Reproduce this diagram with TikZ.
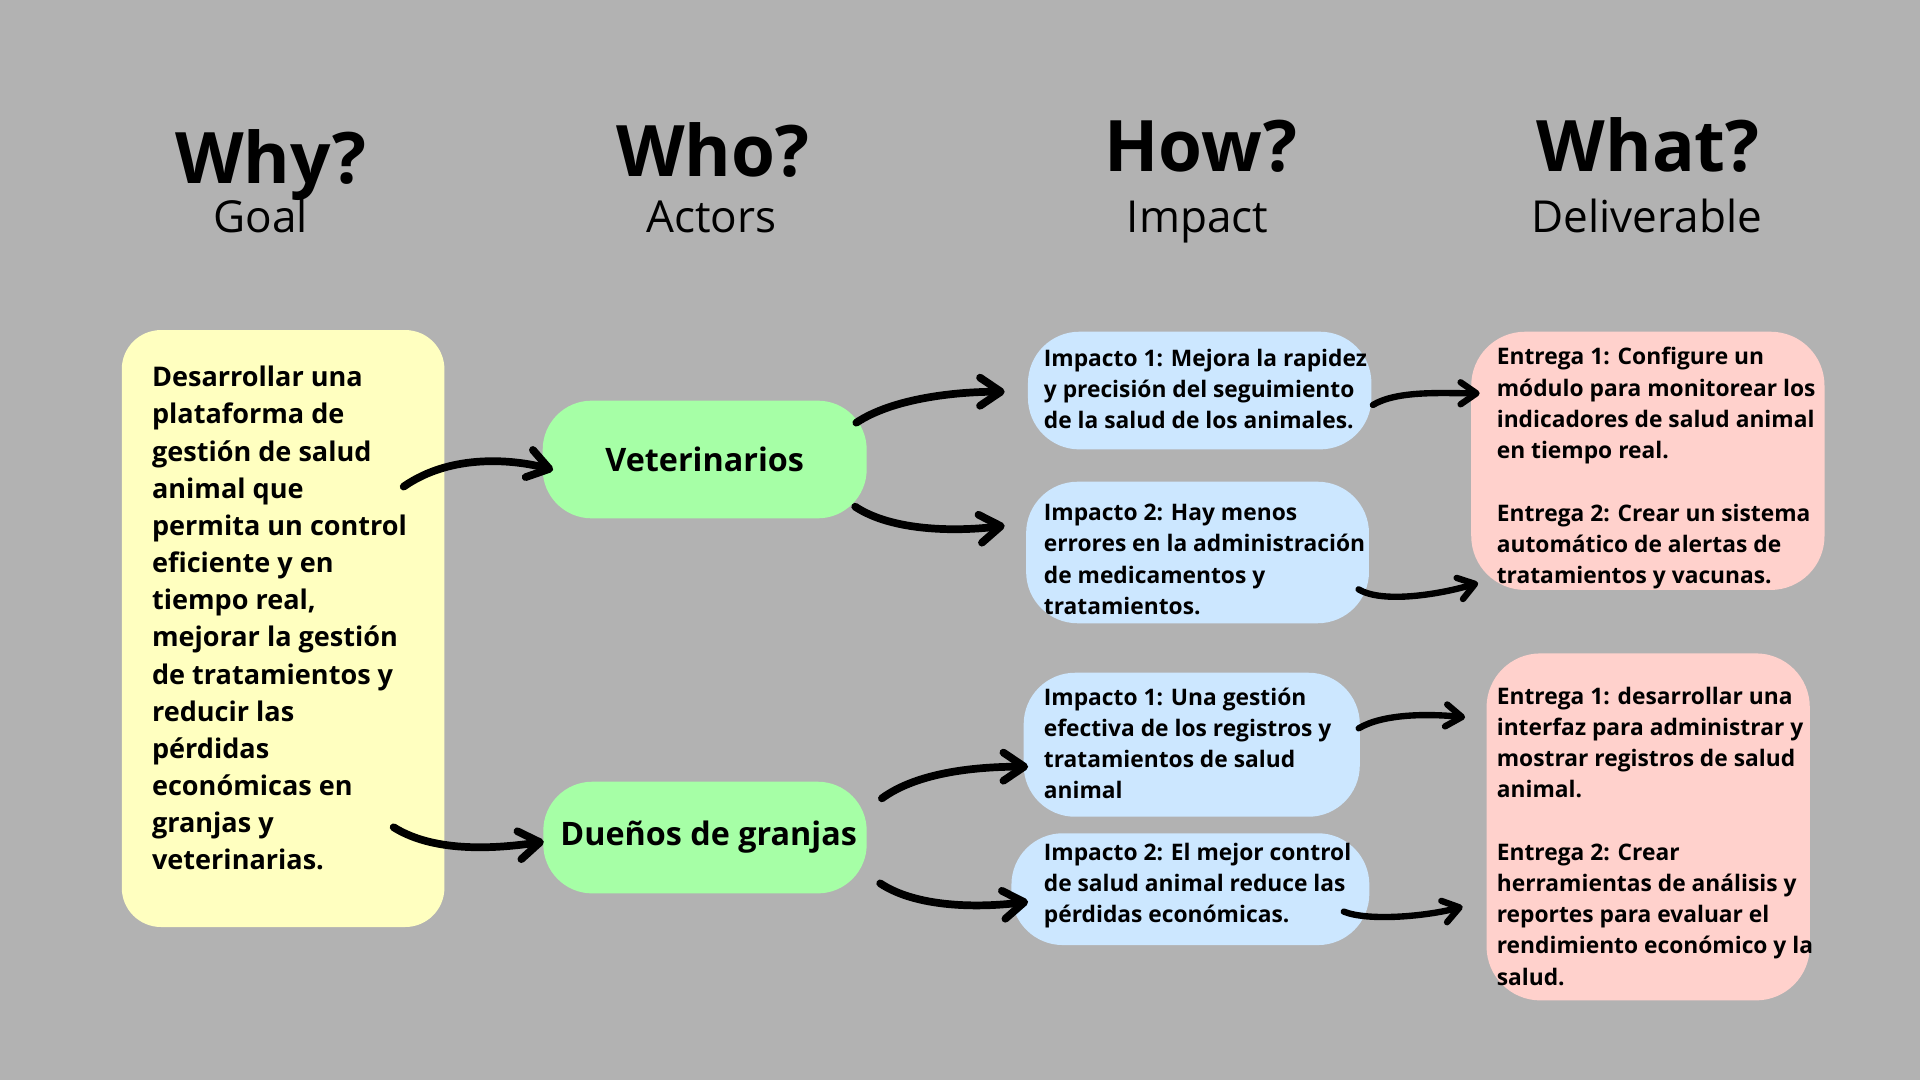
\documentclass[tikz,border=0pt]{standalone}
\usepackage{fontspec}
\setmainfont{Open Sans}
\usetikzlibrary{arrows.meta,calc}
\definecolor{bg}{HTML}{B2B2B2}
\definecolor{goalyellow}{HTML}{FFFFC0}
\definecolor{actorgreen}{HTML}{A6FFA6}
\definecolor{impactblue}{HTML}{CCE7FF}
\definecolor{delivpink}{HTML}{FFD1CC}
\begin{document}
\begin{tikzpicture}[x=1pt,y=-1pt,
  card/.style={rectangle, inner sep=0pt, rounded corners=#1},
  head/.style={inner sep=0pt, anchor=base, font=\fontsize{58pt}{70pt}\selectfont\bfseries},
  subhead/.style={inner sep=0pt, anchor=base, font=\fontsize{36pt}{44pt}\selectfont},
  goaltxt/.style={anchor=north west, inner sep=0pt, align=left, font=\fontsize{22.1pt}{30.34pt}\selectfont\bfseries},
  smalltxt/.style={anchor=north west, inner sep=0pt, align=left, font=\fontsize{18.6pt}{25.5pt}\selectfont\bfseries},
  actortxt/.style={font=\fontsize{26.4pt}{32pt}\selectfont\bfseries},
  bigarrow/.style={line width=6.3pt, line cap=round, -{Straight Barb[length=17pt,width=23pt,round]}},
  smallarrow/.style={line width=5.2pt, line cap=round, -{Straight Barb[length=13pt,width=18pt,round]}}
]
\fill[bg] (0,0) rectangle (1568,882);
\useasboundingbox (0,0) rectangle (1568,882);

% headers
\node[head] (why) at (221,150) {Why?};
\node[subhead] (goalh) at (213,190) {Goal};
\node[head] (who) at (582,144) {Who?};
\node[subhead] (actorsh) at (581,190) {Actors};
\node[head] (how) at (980.6,140) {How?};
\node[subhead] (impacth) at (978,190) {Impact};
\node[head] (what) at (1346,140) {What?};
\node[subhead] (delivh) at (1345,190) {Deliverable};

% boxes
\node[card=32pt, fill=goalyellow, minimum width=263.5pt, minimum height=487.5pt] (goal) at (231.2,513.3) {};
\node[card=40pt, fill=actorgreen, minimum width=264.6pt, minimum height=96.1pt, actortxt] (vet) at (575.5,375.25) {Veterinarios};
\node[card=40pt, fill=actorgreen, minimum width=264.1pt, minimum height=91.2pt, actortxt] (own) at (575.75,684) {\hspace{6pt}Dueños de granjas};
\node[card=42pt, fill=impactblue, minimum width=280.5pt, minimum height=96.1pt] (iv1) at (979.75,318.95) {};
\node[card=42pt, fill=impactblue, minimum width=280pt, minimum height=115.6pt] (iv2) at (978,451.2) {};
\node[card=42pt, fill=impactblue, minimum width=274.5pt, minimum height=117.6pt] (id1) at (973.25,608.2) {};
\node[card=42pt, fill=impactblue, minimum width=292.3pt, minimum height=91.3pt] (id2) at (972.15,726.15) {};
\node[card=44pt, fill=delivpink, minimum width=288.5pt, minimum height=210.9pt] (ev) at (1345.75,376.35) {};
\node[card=44pt, fill=delivpink, minimum width=264pt, minimum height=283.4pt] (ed) at (1346,675.3) {};

% texts
\node[goaltxt] (goalt) at (124,298) {\rule{0pt}{0.8em}Desarrollar una\\plataforma de\\gestión de salud\\animal que\\permita un control\\eficiente y en\\tiempo real,\\mejorar la gestión\\de tratamientos y\\reducir las\\pérdidas\\económicas en\\granjas y\\veterinarias.};
\node[smalltxt] (iv1t) at (852.3,284) {\rule{0pt}{0.8em}Impacto 1: Mejora la rapidez\\y precisión del seguimiento\\de la salud de los animales.};
\node[smalltxt] (iv2t) at (852.3,410.2) {\rule{0pt}{0.8em}Impacto 2: Hay menos\\errores en la administración\\de medicamentos y\\tratamientos.};
\node[smalltxt] (id1t) at (852.3,560.7) {\rule{0pt}{0.8em}Impacto 1: Una gestión\\efectiva de los registros y\\tratamientos de salud\\animal};
\node[smalltxt] (id2t) at (852.3,687.3) {\rule{0pt}{0.8em}Impacto 2: El mejor control\\de salud animal reduce las\\pérdidas económicas.};
\node[smalltxt] (evt) at (1222.2,283) {\rule{0pt}{0.8em}Entrega 1: Configure un\\módulo para monitorear los\\indicadores de salud animal\\en tiempo real.\\[25.5pt]Entrega 2: Crear un sistema\\automático de alertas de\\tratamientos y vacunas.};
\node[smalltxt] (edt) at (1222.2,560) {\rule{0pt}{0.8em}Entrega 1: desarrollar una\\interfaz para administrar y\\mostrar registros de salud\\animal.\\[25.5pt]Entrega 2: Crear\\herramientas de análisis y\\reportes para evaluar el\\rendimiento económico y la\\salud.};

% connectors
\draw[bigarrow] ($(goal.east)+(-33.5,-115.9)$) .. controls +(40,-28) and +(-30,-8) .. ($(vet.west)+(8.7,8.5)$);
\draw[bigarrow] ($(goal.east)+(-41.7,162.3)$) .. controls +(35,22) and +(-35,5) .. ($(own.west)+(0.6,3.4)$);
\draw[bigarrow] ($(vet.east)+(-8.7,-30.05)$) .. controls +(30,-20) and +(-40,0) .. ($(iv1.west)+(-18.8,0.95)$);
\draw[bigarrow] ($(vet.east)+(-9.6,38.55)$) .. controls +(30,20) and +(-40,5) .. ($(iv2.west)+(-17.3,-21.9)$);
\draw[bigarrow] ($(own.east)+(12.2,-32)$) .. controls +(30,-22) and +(-40,0) .. ($(id1.west)+(3.8,17.9)$);
\draw[bigarrow] ($(own.east)+(10.8,37.4)$) .. controls +(30,20) and +(-40,5) .. ($(id2.west)+(13.8,10.25)$);
\draw[smallarrow] ($(iv1.east)+(1,11.75)$) .. controls +(20,-12) and +(-30,0) .. ($(ev.west)+(7.1,-55.15)$);
\draw[smallarrow] ($(iv2.east)+(-8.7,30.1)$) .. controls +(20,12) and +(-30,9) .. ($(ev.south west)+(5.8,-5.9)$);
\draw[smallarrow] ($(id1.east)+(-1.1,-13.4)$) .. controls +(20,-12) and +(-30,-3) .. ($(ed.west)+(-17.3,-89.5)$);
\draw[smallarrow] ($(id2.east)+(-21.1,18.35)$) .. controls +(20,8) and +(-30,8) .. ($(ed.west)+(-19.3,65.1)$);
\end{tikzpicture}
\end{document}
